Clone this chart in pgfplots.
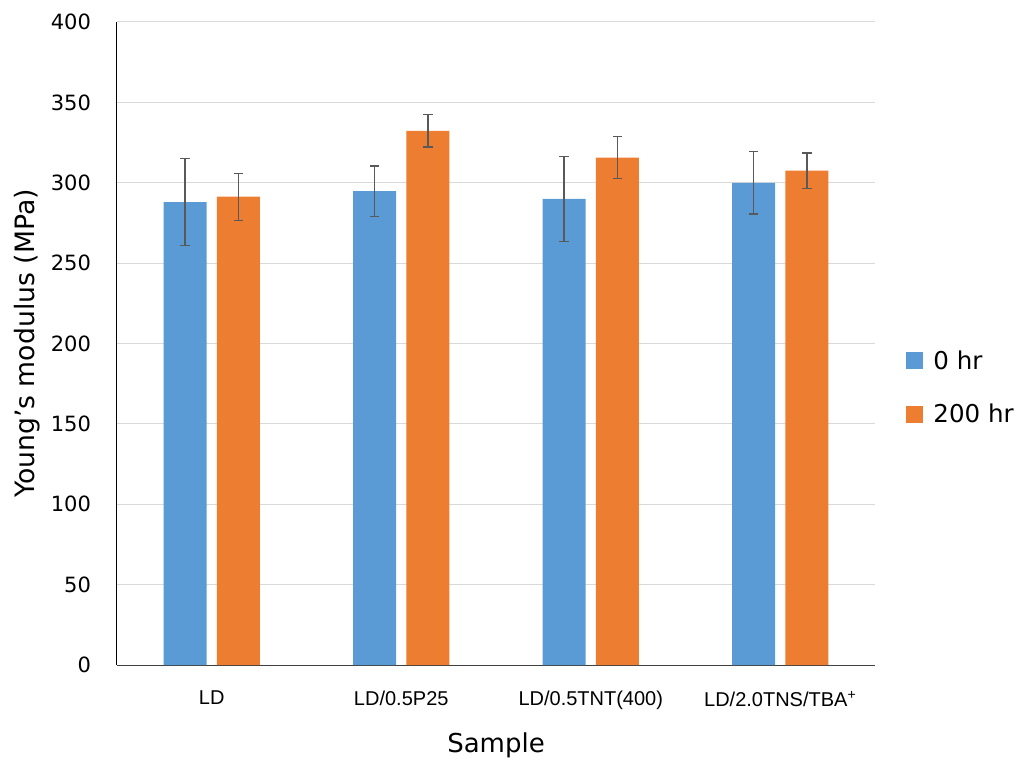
\documentclass[border=0pt]{standalone}
\usepackage{pgfplots}
\pgfplotsset{compat=1.18}
\usepackage{fontspec}
\setmainfont{DejaVu Sans}
\newfontfamily\catfont{Liberation Sans}
\definecolor{bblue}{HTML}{5B9BD5}
\definecolor{borange}{HTML}{ED7D31}
\definecolor{errgray}{HTML}{595959}
\definecolor{gridgray}{HTML}{D9D9D9}

\begin{document}
\begin{tikzpicture}
\useasboundingbox (-87.75pt,-71.25pt) rectangle (676.5pt,498.75pt);
\begin{axis}[
  scale only axis,
  width=568.5pt, height=482.25pt,
  xmin=-0.5, xmax=3.5, ymin=0, ymax=400,
  ybar, bar width=0.227,
  ytick={0,50,...,400},
  xtick={0,1,2,3},
  xticklabels={LD, LD/0.5P25, LD/0.5TNT(400), LD/2.0TNS/TBA\textsuperscript{+}},
  axis x line*=bottom, axis y line*=left,
  x axis line style={draw=black!75, line width=0.75pt},
  y axis line style={draw=black, line width=0.75pt},
  major tick length=0pt,
  ymajorgrids, grid style={gridgray, line width=0.75pt},
  /pgf/number format/assume math mode=true,
  yticklabel style={font=\fontsize{15.75}{18}\selectfont, anchor=east, xshift=-16pt},
  xticklabel style={font=\catfont\fontsize{15}{18}\selectfont, anchor=north, yshift=-16pt},
  ylabel={Young's modulus (MPa)},
  xlabel={Sample},
  ylabel style={font=\fontsize{20}{24}\selectfont, at={(axis description cs:-0.1187,0.5)}, anchor=center},
  xlabel style={font=\fontsize{19.5}{24}\selectfont, at={(axis description cs:0.5,-0.1244)}, anchor=center},
  legend style={at={(axis description cs:1.035,0.4316)}, anchor=west, draw=none, fill=none,
    font=\fontsize{18.4}{22}\selectfont, row sep=20.5pt,
    /tikz/every odd column/.append style={column sep=6pt}},
  legend cell align=left,
  legend image code/.code={\fill[#1] (0pt,-6.4pt) rectangle (12.75pt,6.4pt);},
  error bars/y dir=both, error bars/y explicit,
  error bars/error bar style={errgray, line width=1pt},
  error bars/error mark options={rotate=90, errgray, mark size=3.5pt, line width=1pt},
]
% 0 hr
\addplot[fill=bblue, draw=none, bar shift=-0.141] coordinates {
  (0,288.0) +- (0,27.2)
  (1,294.8) +- (0,15.7)
  (2,290.0) +- (0,26.5)
  (3,300.0) +- (0,19.5)
};
% 200 hr
\addplot[fill=borange, draw=none, bar shift=0.141] coordinates {
  (0,291.3) +- (0,14.6)
  (1,332.3) +- (0,10.0)
  (2,315.7) +- (0,12.9)
  (3,307.5) +- (0,11.0)
};
\legend{0 hr, 200 hr}
\end{axis}
\end{tikzpicture}
\end{document}
